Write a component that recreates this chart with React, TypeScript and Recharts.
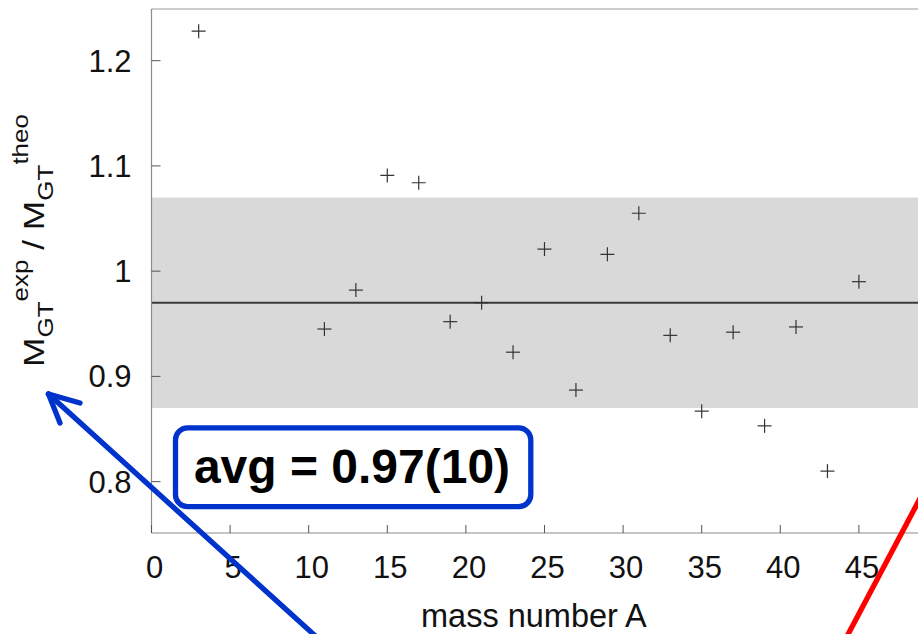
import React from "react";
import {
  ScatterChart,
  Scatter,
  XAxis,
  YAxis,
  ReferenceArea,
  ReferenceLine,
} from "recharts";

// ---- data ----
const massNumbers = [3, 11, 13, 15, 17, 19, 21, 23, 25, 27, 29, 31, 33, 35, 37, 39, 41, 43, 45];
const ratios = [1.228, 0.945, 0.982, 1.091, 1.084, 0.952, 0.970, 0.923, 1.021, 0.887, 1.016, 1.055, 0.939, 0.867, 0.942, 0.853, 0.947, 0.810, 0.990];
const xTicks = [0, 5, 10, 15, 20, 25, 30, 35, 40, 45];
const yTicks = [0.8, 0.9, 1.0, 1.1, 1.2];
const average = 0.97;
const bandLow = 0.87;
const bandHigh = 1.07;
const avgLabel = "avg = 0.97(10)";
const xTitle = "mass number A";

const data = massNumbers.map((a, i) => ({ a, r: ratios[i] }));

const FONT = "'Liberation Sans', Arial, Helvetica, sans-serif";
const W = 918;
const H = 634;
const X_DOMAIN: [number, number] = [0, 48.76];
const Y_DOMAIN: [number, number] = [0.7512, 1.2491];

const Cross = (props: any) => {
  const { cx, cy } = props;
  if (cx == null || cy == null) return null;
  const s = 7;
  return (
    <g>
      <line x1={cx - s} y1={cy} x2={cx + s} y2={cy} stroke="#333" strokeWidth={1.2} />
      <line x1={cx} y1={cy - s} x2={cx} y2={cy + s} stroke="#333" strokeWidth={1.2} />
    </g>
  );
};

const XTick = (props: any) => {
  const { x, y, payload } = props;
  return (
    <g>
      <line x1={x} y1={y} x2={x} y2={y - 8} stroke="#555" strokeWidth={1} />
      <text x={x + 3} y={y + 44.5} textAnchor="middle" fontSize={31} fontFamily={FONT} fill="#111">
        {String(payload.value)}
      </text>
    </g>
  );
};

const YTick = (props: any) => {
  const { x, y, payload } = props;
  return (
    <g>
      <line x1={x} y1={y} x2={x + 9} y2={y} stroke="#555" strokeWidth={1} />
      <text x={x - 20} y={y + 11} textAnchor="end" fontSize={31} fontFamily={FONT} fill="#111">
        {String(payload.value)}
      </text>
    </g>
  );
};

export default function App() {
  return (
    <div style={{ position: "absolute", left: 0, top: 0, width: W, height: H, background: "#fff" }}>
      <ScatterChart
        width={W}
        height={H}
        margin={{ top: 9, right: 0, bottom: 0, left: 0 }}
        style={{ position: "absolute", left: 0, top: 0 }}
      >
        <XAxis
          type="number"
          dataKey="a"
          domain={X_DOMAIN}
          ticks={xTicks}
          interval={0}
          allowDataOverflow
          height={101}
          tickSize={0}
          tickMargin={0}
          tickLine={false}
          axisLine={{ stroke: "#8c8c8c", strokeWidth: 1.2 }}
          tick={<XTick />}
        />
        <YAxis
          type="number"
          dataKey="r"
          domain={Y_DOMAIN}
          ticks={yTicks}
          interval={0}
          allowDataOverflow
          width={151.5}
          tickSize={0}
          tickMargin={0}
          tickLine={false}
          axisLine={{ stroke: "#8c8c8c", strokeWidth: 1.2 }}
          tick={<YTick />}
        />
        <ReferenceArea y1={bandLow} y2={bandHigh} fill="#d9d9d9" fillOpacity={1} stroke="none" ifOverflow="visible" />
        <ReferenceLine y={average} stroke="#3a3a3a" strokeWidth={2} />
        <ReferenceLine y={Y_DOMAIN[1]} stroke="#9a9a9a" strokeWidth={1.2} ifOverflow="visible" />
        <Scatter data={data} shape={<Cross />} isAnimationActive={false} />
      </ScatterChart>
      <svg
        width={W}
        height={H}
        style={{ position: "absolute", left: 0, top: 0, pointerEvents: "none" }}
      >
        {/* y-axis title */}
        <text transform="translate(44,367) rotate(-90) scale(1.18,1)" fontFamily={FONT} fill="#111">
          <tspan fontSize={30}>M</tspan>
          <tspan fontSize={22} dy={9}>GT</tspan>
          <tspan fontSize={22} dy={-25}>exp</tspan>
          <tspan fontSize={30} dy={16}>{"\u00A0/\u00A0M"}</tspan>
          <tspan fontSize={22} dy={9}>GT</tspan>
          <tspan fontSize={22} dy={-25}>theo</tspan>
        </text>
        {/* x-axis title */}
        <text x={421} y={627} fontSize={32.5} fontFamily={FONT} fill="#111">
          {xTitle}
        </text>
        {/* avg box */}
        <rect x={175.5} y={427.8} width={355.3} height={78.9} rx={12} ry={12} fill="#fff" stroke="#0033cc" strokeWidth={5.3} />
        <text x={352} y={482.7} textAnchor="middle" fontSize={48} fontWeight="bold" fontFamily={FONT} fill="#000">
          {avgLabel}
        </text>
        {/* blue arrow */}
        <g stroke="#0033cc" strokeWidth={5.3} strokeLinecap="round" fill="none">
          <line x1={48.5} y1={394} x2={322} y2={642} />
          <line x1={48.5} y1={394} x2={80} y2={403} />
          <line x1={48.5} y1={394} x2={60} y2={423} />
        </g>
        {/* red line */}
        <line x1={925} y1={489} x2={844} y2={642} stroke="#ff0000" strokeWidth={5.3} />
      </svg>
    </div>
  );
}
